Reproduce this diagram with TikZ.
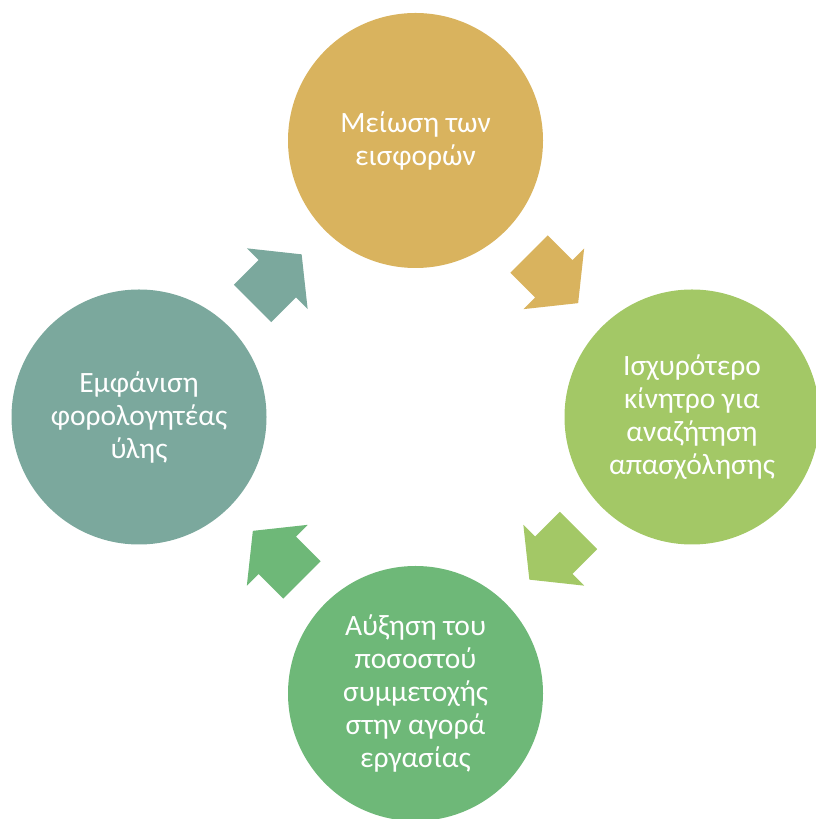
\documentclass[tikz,border=0pt]{standalone}
\usepackage{fontspec}
\setmainfont{Carlito}
\usetikzlibrary{calc}
\definecolor{cgold}{HTML}{D9B35E}
\definecolor{clime}{HTML}{A3C866}
\definecolor{cgreen}{HTML}{6EB878}
\definecolor{cteal}{HTML}{7BA89D}
\tikzset{
  bubble/.style={circle, minimum size=255pt, inner sep=0pt, text=white,
    align=center, font=\fontsize{29.5}{33}\selectfont},
  cyclearrow/.pic={\fill[#1] (-35,-26.5) -- (0,-26.5) -- (0,-43) -- (34.5,0)
    -- (0,43) -- (0,26.5) -- (-35,26.5) -- cycle;}
}
\begin{document}
\begin{tikzpicture}[x=1pt,y=1pt]
\useasboundingbox (0,0) rectangle (816,819);
\node[bubble, fill=cgold]  (top)    at (415.5,678.5) {Μείωση των\\εισφορών};
\node[bubble, fill=clime]  (right)  at (692,402)     {Ισχυρότερο\\κίνητρο για\\αναζήτηση\\απασχόλησης};
\node[bubble, fill=cgreen] (bottom) at (415.5,125.5) {Αύξηση του\\ποσοστού\\συμμετοχής\\στην αγορά\\εργασίας};
\node[bubble, fill=cteal]  (left)   at (139,402)     {Εμφάνιση\\φορολογητέας\\ύλης};
\pic[rotate=-45]  at ($(top.center)!0.5!(right.center)$)   {cyclearrow=cgold};
\pic[rotate=-135] at ($(right.center)!0.5!(bottom.center)$) {cyclearrow=clime};
\pic[rotate=135]  at ($(bottom.center)!0.5!(left.center)$) {cyclearrow=cgreen};
\pic[rotate=45]   at ($(left.center)!0.5!(top.center)$)    {cyclearrow=cteal};
\end{tikzpicture}
\end{document}
